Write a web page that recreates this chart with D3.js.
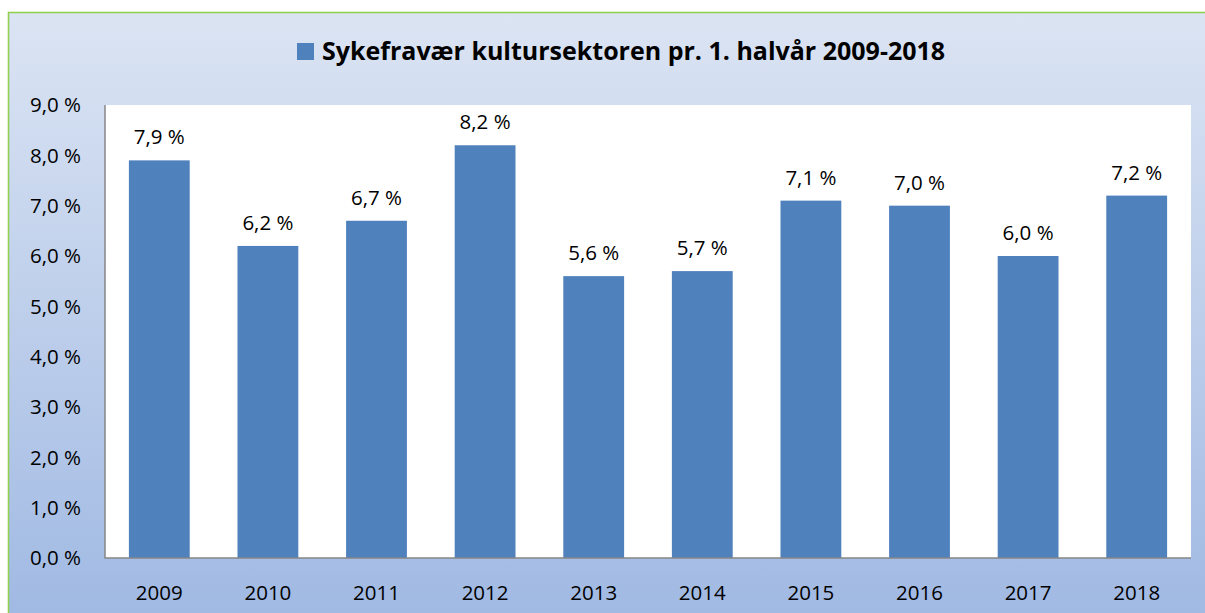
<!DOCTYPE html>
<html lang="no">
<head>
<meta charset="UTF-8">
<script src="https://d3js.org/d3.v7.min.js"></script>
<title>Sykefravær kultursektoren</title>
<style>
  body { margin: 0; background: #fff; }
  text { font-family: "Open Sans", "Liberation Sans", sans-serif; fill: #000; }
</style>
</head>
<body>
<script>
    var years = ["2009","2010","2011","2012","2013","2014","2015","2016","2017","2018"];
    var values = [7.9, 6.2, 6.7, 8.2, 5.6, 5.7, 7.1, 7.0, 6.0, 7.2];
    var yTicks = [0,1,2,3,4,5,6,7,8,9];
    var title = "Sykefravær kultursektoren pr. 1. halvår 2009-2018";

    var W = 1205, H = 613;
    var svg = d3.select("body").append("svg").attr("width", W).attr("height", H);

    // background gradient of the chart area
    var grad = svg.append("defs").append("linearGradient")
        .attr("id","bg").attr("x1",0).attr("y1",0).attr("x2",0).attr("y2",1);
    grad.append("stop").attr("offset","0%").attr("stop-color","#dbe4f3");
    grad.append("stop").attr("offset","100%").attr("stop-color","#9db7e2");

    svg.append("rect").attr("x",8.5).attr("y",12.5).attr("width",1230).attr("height",640)
        .attr("fill","url(#bg)").attr("stroke","#92d050").attr("stroke-width",1.6);

    // plot area bounds (note: "top" is reserved on window, so use other names)
    var pLeft = 105, pRight = 1191, pTop = 105, pBottom = 558;

    var x = d3.scaleBand().domain(years).range([pLeft, pRight]).paddingInner(0.44).paddingOuter(0.22);
    var y = d3.scaleLinear().domain([0, 9]).range([pBottom, pTop]);

    svg.append("rect").attr("x", pLeft).attr("y", pTop).attr("width", pRight-pLeft).attr("height", pBottom-pTop)
        .attr("fill", "#fff");

    // bars
    svg.selectAll("rect.bar").data(values).join("rect").attr("class","bar")
        .attr("x", (d,i) => x(years[i]))
        .attr("y", d => y(d))
        .attr("width", x.bandwidth())
        .attr("height", d => pBottom - y(d))
        .attr("fill", "#4f81bd");

    var fmt = d => d3.format(".1f")(d).replace(".", ",") + " %";

    // value labels
    svg.selectAll("text.val").data(values).join("text").attr("class","val")
        .attr("x", (d,i) => x(years[i]) + x.bandwidth()/2)
        .attr("y", d => y(d) - 16)
        .attr("text-anchor","middle")
        .style("font-size","20.5px")
        .text(fmt);

    // axis lines
    svg.append("line").attr("x1", pLeft).attr("x2", pLeft).attr("y1", pTop).attr("y2", pBottom+0.5)
        .attr("stroke","#868686").attr("stroke-width",1.5);
    svg.append("line").attr("x1", pLeft).attr("x2", pRight).attr("y1", pBottom).attr("y2", pBottom)
        .attr("stroke","#868686").attr("stroke-width",1.5);

    // y tick labels
    svg.selectAll("text.yt").data(yTicks).join("text").attr("class","yt")
        .attr("x", 81)
        .attr("y", d => y(d))
        .attr("dy","0.36em")
        .attr("text-anchor","end")
        .style("font-size","20.5px")
        .text(fmt);

    // x tick labels
    svg.selectAll("text.xt").data(years).join("text").attr("class","xt")
        .attr("x", d => x(d) + x.bandwidth()/2)
        .attr("y", 600)
        .attr("text-anchor","middle")
        .style("font-size","20.5px")
        .text(d => d);

    // legend / title
    svg.append("rect").attr("x",297).attr("y",43).attr("width",17).attr("height",17).attr("fill","#4f81bd");
    svg.append("text").attr("x",322).attr("y",60)
        .style("font-size","25px").style("font-weight","bold")
        .text(title);
</script>
</body>
</html>
